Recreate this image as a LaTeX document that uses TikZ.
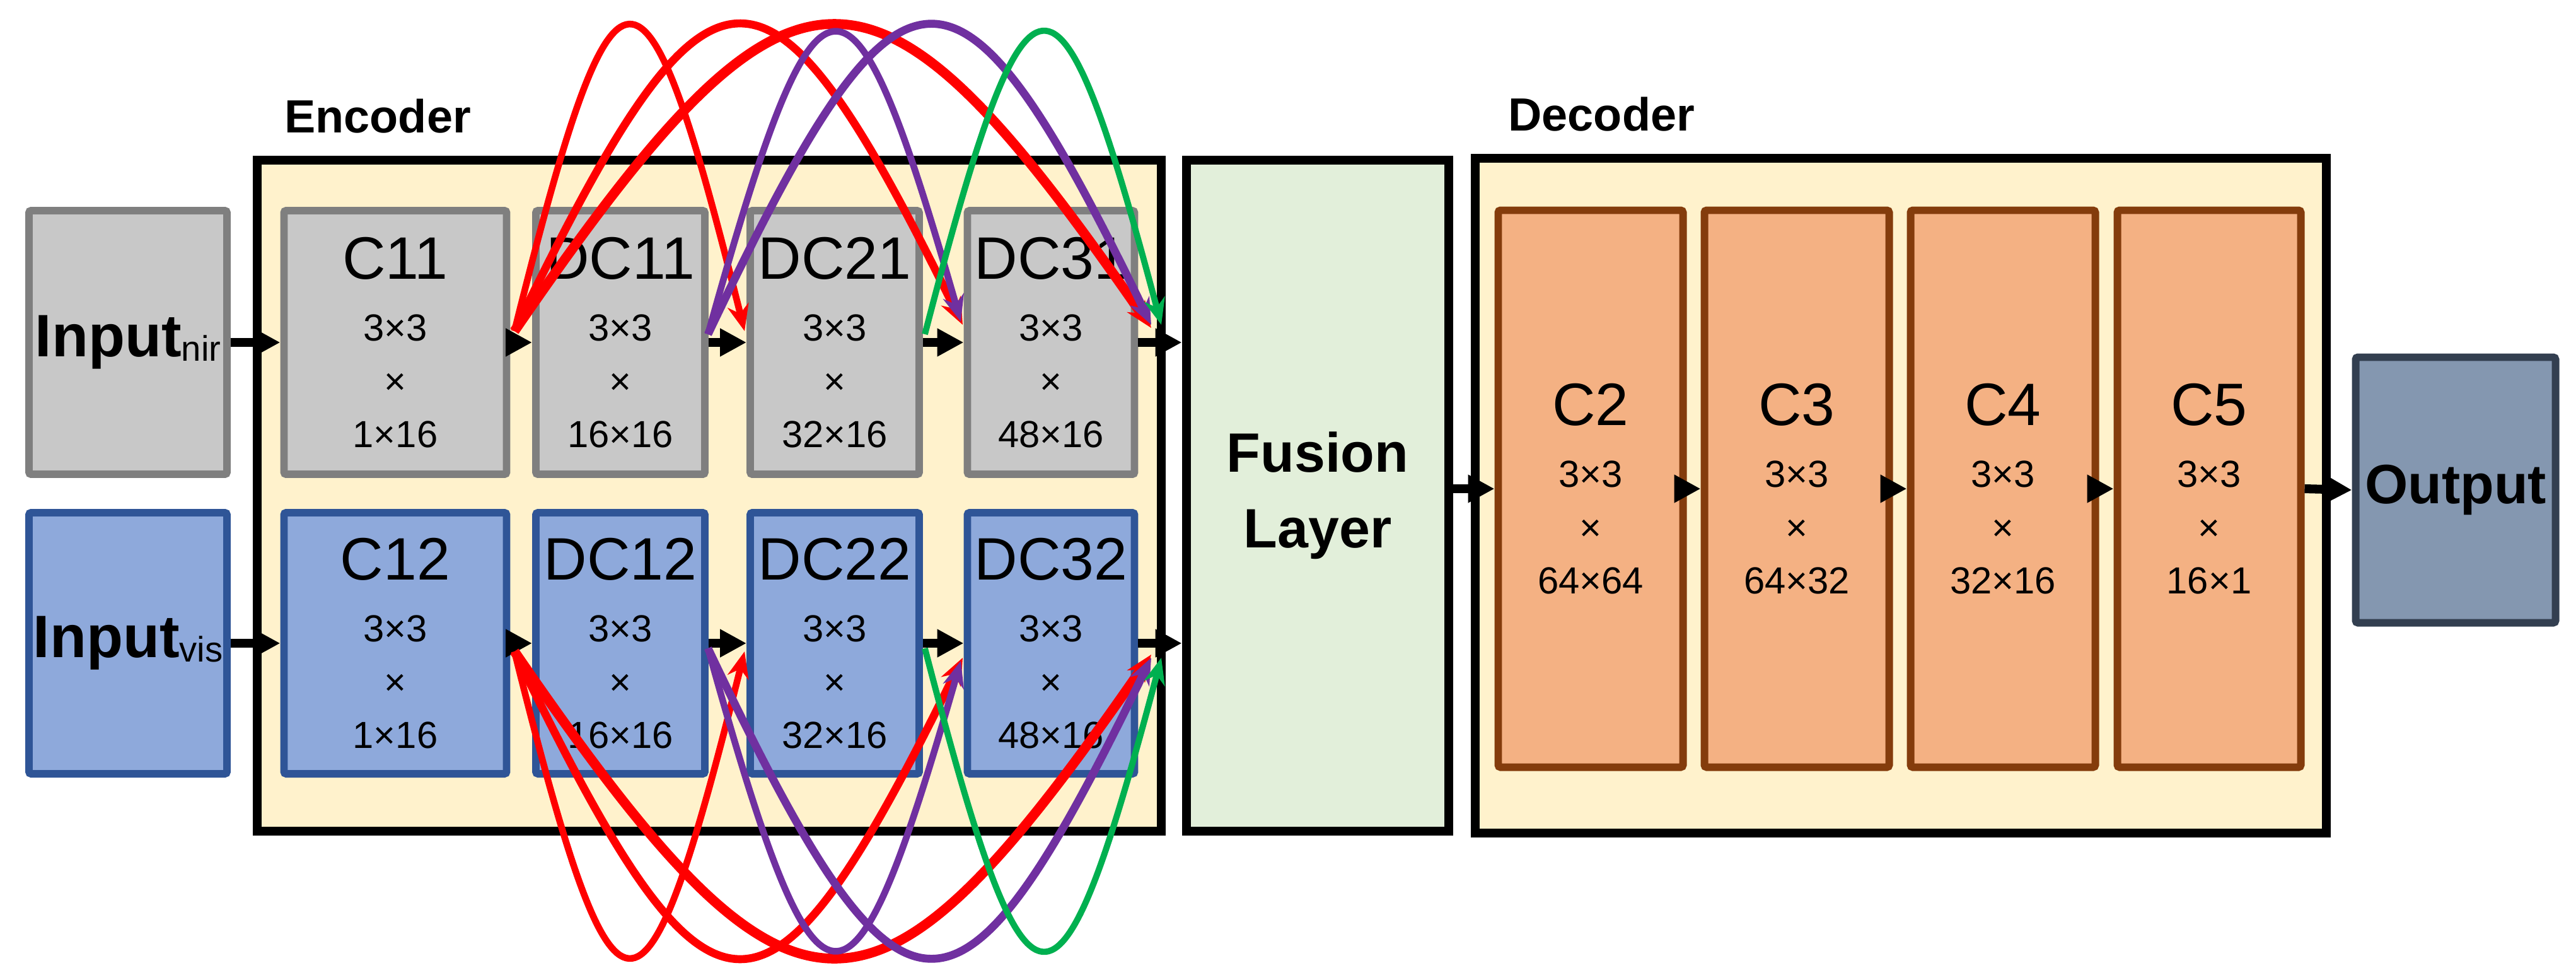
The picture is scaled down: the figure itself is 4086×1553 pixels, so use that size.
\documentclass[tikz,border=0pt]{standalone}
\usepackage{fontspec}
\setmainfont{Liberation Sans}
\usetikzlibrary{arrows.meta}
\definecolor{gfill}{HTML}{C8C8C8}\definecolor{gdraw}{HTML}{7F7F7F}
\definecolor{bfill}{HTML}{8EA9DB}\definecolor{bdraw}{HTML}{2F5597}
\definecolor{encfill}{HTML}{FFF2CC}\definecolor{fusfill}{HTML}{E2EFDA}
\definecolor{ofill}{HTML}{F4B183}\definecolor{odraw}{HTML}{843C0C}
\definecolor{outfill}{HTML}{8497B0}\definecolor{outdraw}{HTML}{333F50}
\definecolor{aRed}{HTML}{FF0000}\definecolor{aPur}{HTML}{7030A0}\definecolor{aGrn}{HTML}{00B050}
\tikzset{
  sz/.style 2 args={minimum width={#1*0.01cm},minimum height={#2*0.01cm},inner sep=0pt},
  grp/.style={draw=black,line width=4.2pt,fill=encfill},
  blk/.style={line width=3.4pt,rounded corners=1pt,align=center,font=\fontsize{17}{24}\selectfont},
  gblk/.style={blk,draw=gdraw,fill=gfill},
  bblk/.style={blk,draw=bdraw,fill=bfill},
  oblk/.style={blk,draw=odraw,fill=ofill},
  big/.style={font=\bfseries\fontsize{27}{32}\selectfont},
  hdr/.style={font=\bfseries\fontsize{21}{24}\selectfont,anchor=base west},
  flow/.style={line width=4pt,-{Triangle[length=0.42cm,width=0.42cm]}},
  arc/.style={line width=#1,-{Stealth[length=0.42cm,width=0.34cm]}},
}
\newcommand{\myttl}{\fontsize{27}{30}\selectfont}
\newcommand{\lay}[2]{{\myttl #1}\\[4pt]3×3\\×\\#2}
\begin{document}
\begin{tikzpicture}[x=0.01cm,y=-0.01cm]
\useasboundingbox (0,0) rectangle (4086,1553);
% groups
\node[grp,sz={1434}{1064}] (enc) at (1125,786) {};
\node[grp,sz={416}{1064},fill=fusfill,align=center,font=\bfseries\fontsize{25}{34}\selectfont] (fus) at (2090,786) {Fusion\\Layer};
\node[grp,sz={1350}{1070}] (dec) at (3015,786) {};
\node[hdr] (enclbl) at (439,210) {Encoder};
\node[hdr] (declbl) at (2380,207) {Decoder};
% inputs
\node[gblk,sz={314}{418},big] (inN) at (203,543) {Input\textmd{\fontsize{16}{16}\selectfont\raisebox{-2pt}{nir}}};
\node[bblk,sz={314}{414},big] (inV) at (203,1020) {Input\textmd{\fontsize{16}{16}\selectfont\raisebox{-2pt}{vis}}};
% encoder top
\node[gblk,sz={353}{418}] (C11) at (627,543) {\lay{C11}{1×16}};
\node[gblk,sz={268}{418}] (DC11) at (984,543) {\lay{DC11}{16×16}};
\node[gblk,sz={268}{418}] (DC21) at (1324,543) {\lay{DC21}{32×16}};
\node[gblk,sz={265}{418}] (DC31) at (1667,543) {\lay{DC31}{48×16}};
% encoder bottom
\node[bblk,sz={353}{414}] (C12) at (627,1020) {\lay{C12}{1×16}};
\node[bblk,sz={268}{414}] (DC12) at (984,1020) {\lay{DC12}{16×16}};
\node[bblk,sz={268}{414}] (DC22) at (1324,1020) {\lay{DC22}{32×16}};
\node[bblk,sz={265}{414}] (DC32) at (1667,1020) {\lay{DC32}{48×16}};
% decoder
\node[oblk,sz={293}{883}] (C2) at (2523,775) {\lay{C2}{64×64}};
\node[oblk,sz={293}{883}] (C3) at (2850,775) {\lay{C3}{64×32}};
\node[oblk,sz={293}{883}] (C4) at (3177,775) {\lay{C4}{32×16}};
\node[oblk,sz={291}{883}] (C5) at (3504,775) {\lay{C5}{16×1}};
\node[draw=outdraw,fill=outfill,line width=3.4pt,rounded corners=1pt,sz={317}{421},font=\bfseries\fontsize{25}{30}\selectfont] (out) at (3895,777) {Output};
% flow arrows
\draw[flow] (inN.east) -- (C11.west);
\draw[flow] (C11.east) -- (DC11.west);
\draw[flow] (DC11.east) -- (DC21.west);
\draw[flow] (DC21.east) -- (DC31.west);
\draw[flow] (DC31.east) -- (DC31.east -| fus.west);
\draw[flow] (inV.east) -- (C12.west);
\draw[flow] (C12.east) -- (DC12.west);
\draw[flow] (DC12.east) -- (DC22.west);
\draw[flow] (DC22.east) -- (DC32.west);
\draw[flow] (DC32.east) -- (DC32.east -| fus.west);
\draw[flow] (fus.east |- C2.west) -- (C2.west);
\draw[flow] (C2.east) -- (C3.west);
\draw[flow] (C3.east) -- (C4.west);
\draw[flow] (C4.east) -- (C5.west);
\draw[flow] (C5.east) -- (out.west);
% arc end points
\coordinate (sA) at (816,525);  \coordinate (sB) at (1123,530); \coordinate (sC) at (1467,530);
\coordinate (e1) at (1181,525); \coordinate (e2) at (1527,515); \coordinate (e3) at (1826,520);
\coordinate (e4) at (1524,510); \coordinate (e5) at (1826,515); \coordinate (e6) at (1842,515);
\coordinate (tA) at (816,1033);  \coordinate (tB) at (1123,1028); \coordinate (tC) at (1467,1028);
\coordinate (f1) at (1181,1033); \coordinate (f2) at (1527,1043); \coordinate (f3) at (1826,1038);
\coordinate (f4) at (1524,1048); \coordinate (f5) at (1826,1043); \coordinate (f6) at (1842,1043);
% top arcs
\draw[arc=3.0pt,aRed] (sA) .. controls (977,-120) and (1020,-120) .. (e1);
\draw[arc=3.6pt,aRed] (sA) .. controls (1129,-120) and (1214,-120) .. (e2);
\draw[arc=4.4pt,aRed] (sA) .. controls (1260,-120) and (1382,-120) .. (e3);
\draw[arc=3.0pt,aPur] (sB) .. controls (1299,-103) and (1348,-103) .. (e4);
\draw[arc=3.6pt,aPur] (sB) .. controls (1432,-120) and (1517,-120) .. (e5);
\draw[arc=2.8pt,aGrn] (sC) .. controls (1632,-105) and (1677,-105) .. (e6);
% bottom arcs
\draw[arc=3.0pt,aRed] (tA) .. controls (977,1678) and (1020,1678) .. (f1);
\draw[arc=3.6pt,aRed] (tA) .. controls (1129,1678) and (1214,1678) .. (f2);
\draw[arc=4.4pt,aRed] (tA) .. controls (1260,1678) and (1382,1678) .. (f3);
\draw[arc=3.0pt,aPur] (tB) .. controls (1299,1661) and (1348,1661) .. (f4);
\draw[arc=3.6pt,aPur] (tB) .. controls (1432,1678) and (1517,1678) .. (f5);
\draw[arc=2.8pt,aGrn] (tC) .. controls (1632,1663) and (1677,1663) .. (f6);
\end{tikzpicture}
\end{document}
